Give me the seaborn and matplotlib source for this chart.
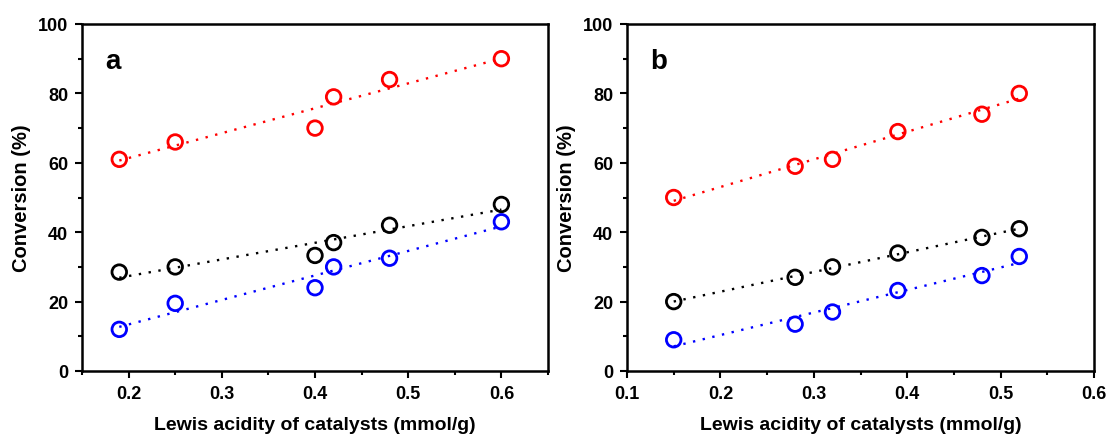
import numpy as np
import pandas as pd
import matplotlib
matplotlib.use("Agg")
import matplotlib.pyplot as plt
from matplotlib.ticker import MultipleLocator
import seaborn as sns

# ---- data ----
x_a = [0.19, 0.25, 0.40, 0.42, 0.48, 0.60]
red_a = [61, 66, 70, 79, 84, 90]
black_a = [28.5, 30, 33.3, 37, 42, 48]
blue_a = [12, 19.5, 24, 30, 32.5, 43]

x_b = [0.15, 0.28, 0.32, 0.39, 0.48, 0.52]
red_b = [50, 59, 61, 69, 74, 80]
black_b = [20, 27, 30, 34, 38.5, 41]
blue_b = [9, 13.5, 17, 23.2, 27.5, 33]

panel_labels = ["a", "b"]
xlims = [(0.15, 0.65), (0.1, 0.6)]
xlabel = "Lewis acidity of catalysts (mmol/g)"
ylabel = "Conversion (%)"

sns.set_style("ticks", {"axes.edgecolor": "black", "text.color": "black",
                        "xtick.color": "black", "ytick.color": "black",
                        "axes.labelcolor": "black"})
plt.rcParams['font.family'] = ['Liberation Sans', 'DejaVu Sans']
plt.rcParams['font.weight'] = 'bold'

fig = plt.figure(figsize=(11.1, 4.35), dpi=100)
ax_a = fig.add_axes([82/1110, 1-372/435, (548-82)/1110, (372-25)/435])
ax_b = fig.add_axes([627/1110, 1-372/435, (1094-627)/1110, (372-25)/435])

colors = {"red": "#ff0000", "black": "#000000", "blue": "#0000ff"}
panels = [
    (ax_a, x_a, {"red": red_a, "black": black_a, "blue": blue_a}),
    (ax_b, x_b, {"red": red_b, "black": black_b, "blue": blue_b}),
]

for i, (ax, xs, series) in enumerate(panels):
    for name, ys in series.items():
        df = pd.DataFrame({"x": xs, "y": ys})
        c = colors[name]
        sns.regplot(data=df, x="x", y="y", ax=ax, scatter=False, ci=None,
                    truncate=True, color=c,
                    line_kws=dict(ls=(0, (1, 3.2)), lw=1.7))
        sns.scatterplot(data=df, x="x", y="y", ax=ax, marker="o", s=110,
                        facecolors="none", edgecolor=c, linewidth=2.0,
                        zorder=5)
    ax.set_xlim(*xlims[i])
    ax.set_ylim(0, 100)
    ax.xaxis.set_major_locator(MultipleLocator(0.1))
    ax.xaxis.set_minor_locator(MultipleLocator(0.05))
    ax.yaxis.set_major_locator(MultipleLocator(20))
    ax.yaxis.set_minor_locator(MultipleLocator(10))
    ax.tick_params(axis="both", which="major", direction="out", length=5,
                   width=1.5, labelsize=13, pad=5, colors="black")
    ax.tick_params(axis="both", which="minor", direction="out", length=3,
                   width=1.5, colors="black")
    for sp in ax.spines.values():
        sp.set_linewidth(1.8)
        sp.set_color("black")
        sp.set_visible(True)
    for lab in ax.get_xticklabels() + ax.get_yticklabels():
        lab.set_fontweight("bold")
    ax.set_xlabel(xlabel, fontsize=14, fontweight="bold", labelpad=10.5,
                  color="black")
    ax.set_ylabel(ylabel, fontsize=14.5, fontweight="bold", labelpad=5,
                  color="black")
    ax.text(0.049, 0.892, panel_labels[i], transform=ax.transAxes,
            fontsize=20, fontweight="bold", ha="left", va="center",
            color="black")

fig.savefig("out.png", dpi=100)
